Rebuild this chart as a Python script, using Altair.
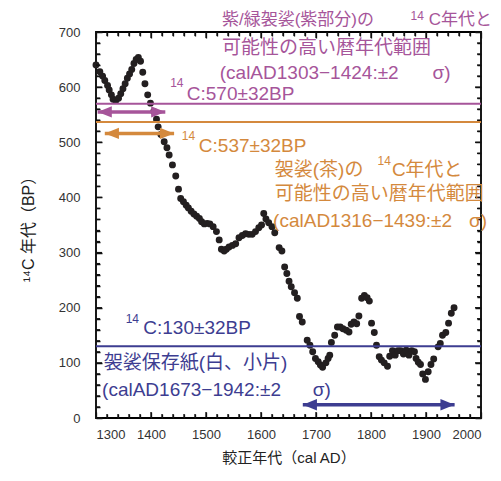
import altair as alt
import pandas as pd

# ---- data ----
years = [1300, 1307, 1312, 1316, 1321, 1324, 1328, 1331, 1336, 1341, 1345, 1349, 1353, 1357,
         1361, 1365, 1369, 1373, 1377, 1381, 1385, 1389, 1394, 1399, 1405, 1410, 1413, 1418,
         1424, 1429, 1433, 1439, 1445, 1450, 1454, 1459, 1464, 1468, 1473, 1478, 1483, 1488,
         1492, 1497, 1502, 1507, 1513, 1519, 1524, 1528, 1533, 1537, 1542, 1548, 1554, 1560,
         1566, 1572, 1578, 1584, 1590, 1596, 1601, 1605, 1609, 1614, 1620, 1625, 1633, 1638,
         1643, 1647, 1651, 1655, 1661, 1666, 1670, 1675, 1684, 1689, 1694, 1699, 1704, 1708,
         1712, 1718, 1722, 1725, 1728, 1734, 1739, 1744, 1749, 1755, 1760, 1764, 1769, 1774,
         1778, 1783, 1788, 1793, 1797, 1801, 1806, 1810, 1815, 1819, 1824, 1830, 1834, 1839,
         1844, 1849, 1854, 1859, 1864, 1869, 1874, 1879, 1882, 1886, 1890, 1894, 1899, 1904,
         1909, 1914, 1922, 1926, 1930, 1936, 1941, 1946, 1951]
bp14c = [640, 628, 620, 612, 603, 595, 586, 578, 576, 580, 588, 597, 606, 616,
         624, 632, 643, 650, 654, 647, 627, 606, 586, 571, 556, 542, 528, 514,
         501, 490, 477, 459, 439, 415, 398, 392, 386, 381, 375, 370, 366, 362,
         356, 352, 353, 352, 347, 338, 323, 306, 303, 306, 310, 313, 316, 327,
         331, 334, 333, 333, 338, 345, 350, 371, 361, 354, 347, 336, 309, 303,
         274, 262, 248, 238, 227, 217, 184, 174, 141, 132, 120, 108, 102, 96,
         92, 100, 108, 114, 137, 150, 165, 165, 162, 159, 156, 170, 174, 171,
         185, 217, 222, 218, 212, 172, 155, 132, 111, 105, 100, 94, 112, 122,
         114, 122, 122, 116, 123, 114, 122, 120, 108, 101, 97, 80, 70, 84,
         97, 107, 129, 135, 150, 155, 172, 190, 200]

PURPLE = "#a6559a"
ORANGE = "#d4893d"
BLUE = "#3d3d91"
INK = "#111111"

line_bp = [570, 537, 130]
line_colors = [PURPLE, ORANGE, BLUE]

arrow_from = [1303, 1316, 1676]
arrow_to = [1426, 1442, 1952]
arrow_bp = [555, 516, 24]
arrow_colors = [PURPLE, ORANGE, BLUE]

main_texts = ["紫/緑袈裟(紫部分)の", "C年代と", "可能性の高い暦年代範囲", "(calAD1303−1424:±2", "σ)",
              "C:570±32BP",
              "C:537±32BP", "袈裟(茶)の", "C年代と", "可能性の高い暦年代範囲", "(calAD1316−1439:±2", "σ)",
              "C:130±32BP", "袈裟保存紙(白、小片)", "(calAD1673−1942:±2", "σ)"]
main_x = [1529, 1905, 1529, 1525, 1912,
          1465,
          1487, 1625, 1838, 1625, 1622, 1978,
          1386, 1314, 1311, 1694]
main_y = [722, 722, 671, 626, 626,
          588,
          494, 450, 450, 406, 357, 357,
          164, 100, 51, 51]
main_sizes = [17, 17, 19, 19, 19, 19, 19, 19, 19, 19, 19, 19, 19, 19, 19, 19]
main_colors = [PURPLE] * 6 + [ORANGE] * 6 + [BLUE] * 4

sup_texts = ["14", "14", "14", "14", "14"]
sup_x = [1884, 1447, 1468, 1824, 1366]
sup_y = [729, 607, 512, 466, 180]
sup_colors = [PURPLE, PURPLE, ORANGE, ORANGE, BLUE]

x_ticks = list(range(1300, 2001, 20))
y_ticks = list(range(0, 701, 20))

FONT = "Liberation Sans, Noto Sans CJK JP"
X_TITLE = "較正年代（cal AD）"
Y_TITLE = "¹⁴C 年代（BP）"

W, H = 385, 386
X0, X1, Y0, Y1 = 1300, 2000, 0, 700
MAJ, MIN = 6, 4

xs = alt.Scale(domain=[X0, X1], nice=False, zero=False)
ys = alt.Scale(domain=[Y0, Y1], nice=False)

# Inward ticks on all four sides, drawn as grid lines dashed so that only a
# short piece shows at each edge of the plot (major every 100, minor every 20).
x_axis = alt.Axis(values=x_ticks, format="d",
                  labelExpr="datum.value % 100 === 0 ? datum.label : ''", labelOverlap=False,
                  ticks=False, tickSize=0, domain=False,
                  grid=True, gridColor=INK, gridOpacity=1, gridWidth=1.3,
                  gridDash={"condition": {"test": "datum.value % 100 === 0",
                                          "value": [MAJ, H - 2 * MAJ, MAJ]},
                            "value": [MIN, H - 2 * MIN, MIN]},
                  labelFont="Liberation Sans", labelFontSize=13, labelColor="#333333",
                  labelPadding=10, titleFont=FONT, titleFontSize=15,
                  titleFontWeight="normal", titleColor="#222222", titlePadding=9)
y_axis = alt.Axis(values=y_ticks, format="d",
                  labelExpr="datum.value % 100 === 0 ? datum.label : ''", labelOverlap=False,
                  ticks=False, tickSize=0, domain=False,
                  grid=True, gridColor=INK, gridOpacity=1, gridWidth=1.3,
                  gridDash={"condition": {"test": "datum.value % 100 === 0",
                                          "value": [MAJ, W - 2 * MAJ, MAJ]},
                            "value": [MIN, W - 2 * MIN, MIN]},
                  labelFont="Liberation Sans", labelFontSize=13, labelColor="#333333",
                  labelPadding=16, titleFont=FONT, titleFontSize=16,
                  titleFontWeight="normal", titleColor="#222222", titlePadding=22)


def X(field):
    return alt.X(field, scale=xs, axis=x_axis, title=X_TITLE)


def Y(field):
    return alt.Y(field, scale=ys, axis=y_axis, title=Y_TITLE)


# The same inward ticks also as short rules (lengths converted from px to data units).
kx = (X1 - X0) / W
ky = (Y1 - Y0) / H


def tick_len(v, k):
    return (MAJ if v % 100 == 0 else MIN) * k


vt = pd.DataFrame({
    "x": x_ticks * 2,
    "y": [Y0] * len(x_ticks) + [Y1] * len(x_ticks),
    "y2": [Y0 + tick_len(v, ky) for v in x_ticks] + [Y1 - tick_len(v, ky) for v in x_ticks],
})
ht = pd.DataFrame({
    "y": y_ticks * 2,
    "x": [X0] * len(y_ticks) + [X1] * len(y_ticks),
    "x2": [X0 + tick_len(v, kx) for v in y_ticks] + [X1 - tick_len(v, kx) for v in y_ticks],
})
vticks = alt.Chart(vt).mark_rule(color=INK, strokeWidth=1.3).encode(
    x=X("x:Q"), y=Y("y:Q"), y2="y2:Q")
hticks = alt.Chart(ht).mark_rule(color=INK, strokeWidth=1.3).encode(
    y=Y("y:Q"), x=X("x:Q"), x2="x2:Q")

dots = alt.Chart(pd.DataFrame({"year": years, "bp": bp14c})).mark_circle(
    size=48, color="#231f20", opacity=1).encode(x=X("year:Q"), y=Y("bp:Q"))

hlines = alt.Chart(pd.DataFrame({"bp": line_bp, "c": line_colors})).mark_rule(strokeWidth=2).encode(
    y=Y("bp:Q"), color=alt.Color("c:N", scale=None))

adf = pd.DataFrame({"x1": arrow_from, "x2": arrow_to, "y": arrow_bp, "c": arrow_colors})
shafts = alt.Chart(adf).mark_rule(strokeWidth=3.5).encode(
    x=X("x1:Q"), x2="x2:Q", y=Y("y:Q"), color=alt.Color("c:N", scale=None))
head_l = alt.Chart(adf).mark_point(shape="M0,0L2,-0.8L2,0.8Z", filled=True, size=200,
                                   opacity=1, strokeWidth=0).encode(
    x=X("x1:Q"), y=Y("y:Q"), color=alt.Color("c:N", scale=None))
head_r = alt.Chart(adf).mark_point(shape="M0,0L-2,-0.8L-2,0.8Z", filled=True, size=200,
                                   opacity=1, strokeWidth=0).encode(
    x=X("x2:Q"), y=Y("y:Q"), color=alt.Color("c:N", scale=None))

texts = alt.Chart(pd.DataFrame({"t": main_texts, "x": main_x, "y": main_y, "s": main_sizes,
                                "c": main_colors})).mark_text(
    align="left", baseline="middle", font=FONT).encode(
    x=X("x:Q"), y=Y("y:Q"), text="t:N", size=alt.Size("s:Q", scale=None),
    color=alt.Color("c:N", scale=None))
sups = alt.Chart(pd.DataFrame({"t": sup_texts, "x": sup_x, "y": sup_y, "c": sup_colors})).mark_text(
    align="center", baseline="middle", font=FONT, fontSize=12).encode(
    x=X("x:Q"), y=Y("y:Q"), text="t:N", color=alt.Color("c:N", scale=None))

chart = alt.layer(dots, vticks, hticks, hlines, shafts, head_l, head_r, texts, sups).properties(
    width=W, height=H,
    padding={"left": 88, "top": 24, "right": 12, "bottom": 50},
    autosize=alt.AutoSizeParams(type="none"),
    background="white",
).configure_view(stroke="black", strokeWidth=1.8)

chart.save("out.html", embed_options={"renderer": "svg", "actions": False})
